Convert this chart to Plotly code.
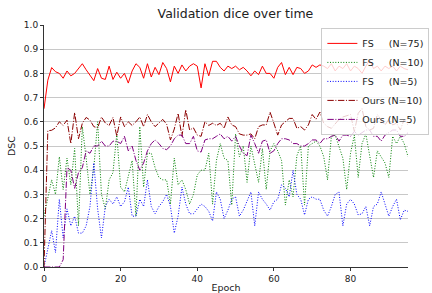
import plotly.graph_objects as go

epochs = list(range(96))

fs_n75 = [0.654, 0.772, 0.824, 0.807, 0.80, 0.78, 0.81, 0.79, 0.80, 0.82,
          0.84, 0.815, 0.79, 0.77, 0.82, 0.78, 0.775, 0.83, 0.775, 0.805,
          0.78, 0.80, 0.76, 0.81, 0.84, 0.825, 0.78, 0.84, 0.785, 0.825,
          0.795, 0.845, 0.82, 0.765, 0.83, 0.80, 0.835, 0.81, 0.83, 0.84,
          0.83, 0.74, 0.84, 0.79, 0.85, 0.85, 0.825, 0.81, 0.83, 0.82,
          0.83, 0.815, 0.825, 0.81, 0.79, 0.81, 0.795, 0.83, 0.80, 0.80,
          0.78, 0.825, 0.845, 0.795, 0.825, 0.795, 0.825, 0.82, 0.80, 0.81,
          0.835, 0.825, 0.835, 0.83, 0.82, 0.84, 0.81, 0.83, 0.82, 0.84,
          0.81, 0.83, 0.82, 0.80, 0.83, 0.855, 0.82, 0.83, 0.81, 0.83,
          0.82, 0.83, 0.81, 0.83, 0.82, 0.815]

fs_n10 = [0.21, 0.29, 0.36, 0.30, 0.455, 0.32, 0.45, 0.34, 0.49, 0.17,
          0.58, 0.45, 0.30, 0.41, 0.60, 0.30, 0.24, 0.36, 0.39, 0.55,
          0.33, 0.31, 0.38, 0.44, 0.21, 0.58, 0.33, 0.47, 0.47, 0.41,
          0.37, 0.36, 0.36, 0.26, 0.45, 0.34, 0.36, 0.32, 0.26, 0.30,
          0.38, 0.40, 0.40, 0.47, 0.26, 0.44, 0.51, 0.45, 0.44, 0.256,
          0.55, 0.456, 0.50, 0.35, 0.50, 0.42, 0.35, 0.49, 0.32, 0.48,
          0.51, 0.48, 0.44, 0.256, 0.36, 0.29, 0.46, 0.50, 0.256, 0.50,
          0.51, 0.52, 0.50, 0.456, 0.36, 0.54, 0.545, 0.50, 0.45, 0.32,
          0.47, 0.545, 0.37, 0.51, 0.55, 0.46, 0.37, 0.48, 0.456, 0.43,
          0.37, 0.54, 0.51, 0.54, 0.51, 0.456]

fs_n5 = [0.0, 0.08, 0.15, 0.06, 0.28, 0.12, 0.24, 0.17, 0.21, 0.14,
         0.14, 0.17, 0.25, 0.43, 0.24, 0.12, 0.25, 0.28, 0.26, 0.29,
         0.25, 0.27, 0.33, 0.21, 0.21, 0.28, 0.25, 0.36, 0.25, 0.22,
         0.25, 0.27, 0.30, 0.25, 0.14, 0.21, 0.33, 0.26, 0.22, 0.22,
         0.24, 0.26, 0.25, 0.23, 0.19, 0.31, 0.28, 0.20, 0.235, 0.28,
         0.29, 0.21, 0.235, 0.27, 0.31, 0.17, 0.31, 0.28, 0.26, 0.235,
         0.27, 0.28, 0.34, 0.325, 0.29, 0.40, 0.30, 0.28, 0.215, 0.28,
         0.29, 0.28, 0.28, 0.235, 0.21, 0.25, 0.30, 0.31, 0.17, 0.26,
         0.28, 0.26, 0.215, 0.22, 0.25, 0.17, 0.25, 0.26, 0.31, 0.26,
         0.21, 0.25, 0.28, 0.195, 0.235, 0.23]

ours_n10 = [0.0, 0.563, 0.565, 0.575, 0.60, 0.585, 0.607, 0.51, 0.638, 0.53,
            0.594, 0.618, 0.607, 0.58, 0.575, 0.62, 0.595, 0.585, 0.618, 0.54,
            0.62, 0.58, 0.60, 0.585, 0.60, 0.62, 0.58, 0.63, 0.60, 0.58,
            0.595, 0.61, 0.59, 0.525, 0.57, 0.635, 0.54, 0.65, 0.566, 0.575,
            0.545, 0.54, 0.60, 0.585, 0.594, 0.585, 0.594, 0.573, 0.62, 0.587,
            0.58, 0.55, 0.545, 0.545, 0.55, 0.53, 0.58, 0.587, 0.587, 0.64,
            0.594, 0.545, 0.587, 0.60, 0.614, 0.614, 0.573, 0.58, 0.566, 0.587,
            0.63, 0.61, 0.64, 0.594, 0.58, 0.573, 0.594, 0.61, 0.62, 0.625,
            0.63, 0.56, 0.635, 0.655, 0.58, 0.566, 0.573, 0.63, 0.61, 0.587,
            0.61, 0.587, 0.594, 0.566, 0.61, 0.587]

ours_n5 = [0.0, 0.0, 0.0, 0.0, 0.0, 0.03, 0.41, 0.40, 0.325, 0.39,
           0.41, 0.48, 0.47, 0.50, 0.50, 0.52, 0.50, 0.50, 0.52, 0.52,
           0.51, 0.54, 0.48, 0.50, 0.44, 0.40, 0.43, 0.48, 0.51, 0.525,
           0.51, 0.49, 0.485, 0.50, 0.53, 0.545, 0.545, 0.51, 0.51, 0.54,
           0.48, 0.475, 0.525, 0.53, 0.53, 0.54, 0.55, 0.53, 0.54, 0.52,
           0.54, 0.50, 0.47, 0.46, 0.545, 0.51, 0.47, 0.52, 0.525, 0.47,
           0.48, 0.51, 0.53, 0.53, 0.525, 0.51, 0.51, 0.50, 0.50, 0.51,
           0.525, 0.525, 0.51, 0.53, 0.53, 0.54, 0.545, 0.52, 0.545, 0.545,
           0.54, 0.56, 0.545, 0.555, 0.566, 0.566, 0.54, 0.54, 0.52, 0.545,
           0.555, 0.566, 0.566, 0.54, 0.54, 0.555]

NB = "\u00a0"
series_names = ["FS" + NB * 5 + "(N=75)", "FS" + NB * 5 + "(N=10)", "FS" + NB * 5 + "(N=5)",
                "Ours (N=10)", "Ours (N=5)"]
y_ticks = [round(i * 0.1, 1) for i in range(11)]
x_ticks = [0, 20, 40, 60, 80]

DOT = "1px,1.65px"
DASHDOT = "6.4px,1.6px,1px,1.6px"
styles = [
    dict(color="#ff0000", dash="solid"),
    dict(color="#008000", dash=DOT),
    dict(color="#0000ff", dash=DOT),
    dict(color="#8b0000", dash=DASHDOT),
    dict(color="#800080", dash=DASHDOT),
]

fig = go.Figure()
for name, ys, st in zip(series_names, [fs_n75, fs_n10, fs_n5, ours_n10, ours_n5], styles):
    fig.add_trace(go.Scatter(x=epochs, y=ys, mode="lines", name=name,
                             line=dict(color=st["color"], dash=st["dash"], width=1)))

font = "DejaVu Sans, Verdana, sans-serif"
fig.update_layout(
    width=432, height=293,
    margin=dict(l=44, r=3, t=25, b=26),
    paper_bgcolor="white", plot_bgcolor="white",
    font=dict(family=font, size=9, color="#222222"),
    title=dict(text="Validation dice over time", x=0.545, xanchor="center",
               xref="container", yref="container",
               y=1 - 14 / 293, yanchor="middle", font=dict(size=12.5, color="#222222")),
    showlegend=True,
    legend=dict(x=0.762, y=0.988, xanchor="left", yanchor="top",
                bgcolor="rgba(255,255,255,0.8)", bordercolor="#cccccc", borderwidth=1,
                font=dict(size=9.5, color="#222222"), tracegroupgap=0,
                itemwidth=30),
)
fig.update_xaxes(range=[0, 95], tickvals=x_ticks, ticktext=[str(v) for v in x_ticks],
                 automargin=False,
                 showgrid=False, zeroline=False, showline=True, linecolor="#333333",
                 linewidth=1, ticks="outside", ticklen=3, tickcolor="#333333",
                 title=dict(text="Epoch", standoff=2, font=dict(size=9.5)))
fig.update_yaxes(range=[0, 1.0], tickvals=y_ticks, ticktext=[f"{v:.1f}" for v in y_ticks],
                 automargin=False,
                 showgrid=True, gridcolor="#c8c8c8", gridwidth=1, zeroline=False,
                 showline=True, linecolor="#333333", linewidth=1, ticks="outside",
                 ticklen=3, tickcolor="#333333",
                 title=dict(text="DSC", standoff=6, font=dict(size=9.5)))

fig.write_html("out.html", config={"displayModeBar": False},
               post_script="document.body.style.margin='0';document.body.style.overflow='hidden';")
